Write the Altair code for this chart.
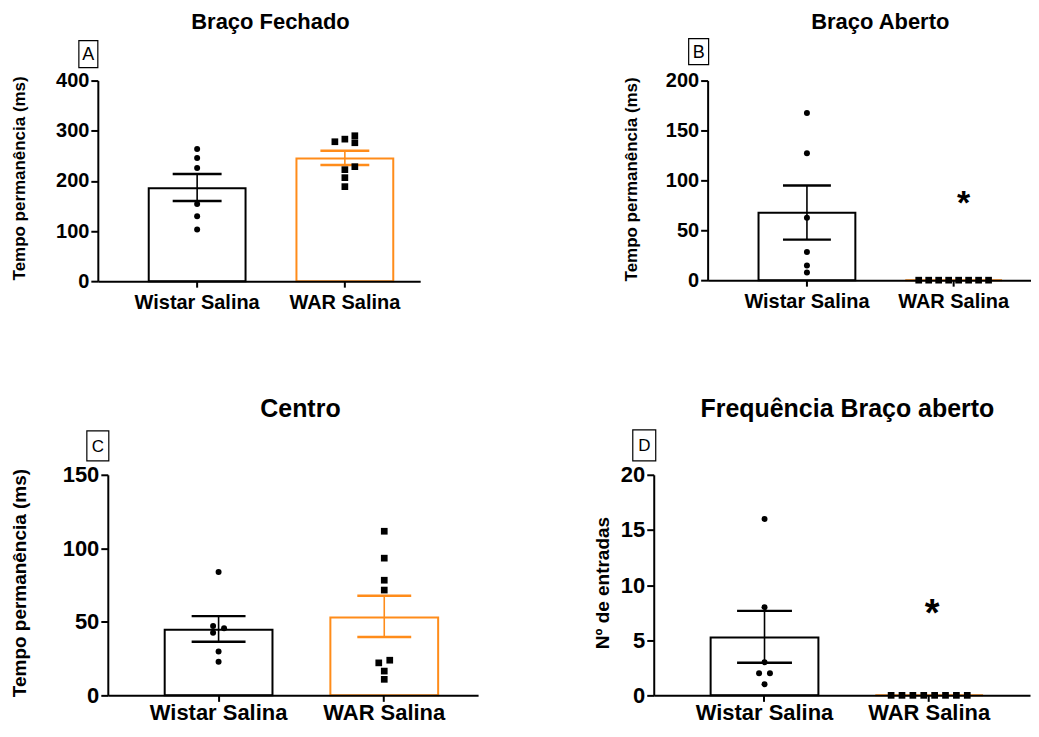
import altair as alt
import pandas as pd

groups = ["Wistar Salina", "WAR Salina"]
colors = ["#000000", "#FF8C1A"]
FONT = "Liberation Sans"

# ---- Panel A : Braço Fechado ----
a_means = [185.1, 244.8]
a_lo = [159.9, 231.5]
a_hi = [213.6, 260.0]
a_w_vals = [263.3, 245.4, 225.5, 153.8, 129.4, 102.8]
a_w_slot = [0, 0, 0, 0, 0, 0]
a_r_vals = [278.0, 283.2, 290.0, 276.0, 222.3, 228.3, 206.4, 188.5]
a_r_slot = [-1, 0, 1, 1, 0, 1, 0, 0]

# ---- Panel B : Braço Aberto ----
b_means = [67.6, 0.0]
b_lo = [40.6, 0.0]
b_hi = [94.8, 0.0]
b_w_vals = [167.4, 127.1, 62.6, 28.3, 14.6, 7.7]
b_w_slot = [0, 0, 0, 0, 0, 0]
b_r_vals = [0, 0, 0, 0, 0, 0, 0, 0]
b_r_slot = [-3.5, -2.5, -1.5, -0.5, 0.5, 1.5, 2.5, 3.5]
b_star = [76]

# ---- Panel C : Centro ----
c_means = [44.6, 53.0]
c_lo = [36.5, 39.7]
c_hi = [53.9, 67.7]
c_w_vals = [83.9, 47.1, 42.6, 45.7, 29.9, 22.8]
c_w_slot = [0, -0.5, -0.5, 0.5, 0, 0]
c_r_vals = [111.6, 93.3, 78.3, 71.6, 22.1, 23.9, 16.5, 10.9]
c_r_slot = [0, 0, 0, 0, -0.5, 0.5, 0, 0]

# ---- Panel D : Frequência Braço aberto ----
d_means = [5.25, 0.0]
d_lo = [2.95, 0.0]
d_hi = [7.66, 0.0]
d_w_vals = [16, 8, 3, 2, 2, 1]
d_w_slot = [0, 0, 0, -0.5, 0.5, 0]
d_r_vals = [0, 0, 0, 0, 0, 0, 0, 0]
d_r_slot = [-3.5, -2.5, -1.5, -0.5, 0.5, 1.5, 2.5, 3.5]
d_star = [7.3]


def panel(letter, title, ytitle, ymax, ystep, means, lo, hi, w_vals, w_slot, r_vals, r_slot,
          width, height, pi, po, align, cap, slot_px, fs_tick, fs_ytitle, fs_title, title_dx,
          title_y, title_pad, ytitle_y, xlab_pad, box, fs_letter, pt_circle, pt_square,
          star=None, star_fs=30, star_dx=0):
    bars = pd.DataFrame({"group": groups, "mean": means, "lo": lo, "hi": hi})
    pts = pd.DataFrame({
        "group": [groups[0]] * len(w_vals) + [groups[1]] * len(r_vals),
        "value": w_vals + r_vals,
        "slot": w_slot + r_slot,
    })
    xscale = alt.Scale(domain=groups, paddingInner=pi, paddingOuter=po, align=align)
    xaxis = alt.Axis(title=None, labelAngle=0, labelFontSize=fs_tick, tickSize=6,
                     labelPadding=xlab_pad, zindex=1)
    xenc = alt.X("group:N", sort=groups, scale=xscale, axis=xaxis)
    bandwidth = width / (2 - pi + 2 * po) * (1 - pi)
    yscale = alt.Scale(domain=[0, ymax], nice=False)
    yaxis = alt.Axis(title=ytitle, values=list(range(0, ymax + 1, ystep)), labelFontSize=fs_tick,
                     titleFontSize=fs_ytitle, titlePadding=title_pad, titleY=ytitle_y,
                     tickSize=7, labelPadding=2)
    cenc = alt.Color("group:N", scale=alt.Scale(domain=groups, range=colors), legend=None)

    base = alt.Chart(bars)
    bar = base.mark_bar(fill="white", strokeWidth=2).encode(
        x=xenc, y=alt.Y("mean:Q", scale=yscale, axis=yaxis),
        stroke=alt.Stroke("group:N", scale=alt.Scale(domain=groups, range=colors), legend=None))
    eb = base.transform_filter("datum.hi > datum.lo")
    rule = eb.mark_rule(strokeWidth=1.6).encode(
        x=xenc, y=alt.Y("lo:Q", scale=yscale, axis=yaxis), y2="hi:Q", color=cenc)
    cap_lo = eb.mark_tick(size=cap, thickness=2.4, opacity=1).encode(
        x=xenc, y=alt.Y("lo:Q", scale=yscale, axis=yaxis), color=cenc)
    cap_hi = eb.mark_tick(size=cap, thickness=2.4, opacity=1).encode(
        x=xenc, y=alt.Y("hi:Q", scale=yscale, axis=yaxis), color=cenc)
    layers = [bar, rule, cap_lo, cap_hi]
    for s in sorted(set(w_slot + r_slot)):
        layers.append(alt.Chart(pts).transform_filter(f"datum.slot == {s}").mark_point(
            filled=True, opacity=1, color="black").encode(
            x=alt.X("group:N", sort=groups, scale=xscale, axis=xaxis,
                    bandPosition=0.5 + s * slot_px / bandwidth),
            y=alt.Y("value:Q", scale=yscale, axis=yaxis),
            shape=alt.Shape("group:N", scale=alt.Scale(domain=groups, range=["circle", "square"]), legend=None),
            size=alt.Size("group:N", scale=alt.Scale(domain=groups, range=[pt_circle, pt_square]), legend=None),
        ))
    if star is not None:
        sdf = pd.DataFrame({"group": [groups[1]], "y": star, "t": ["*"]})
        layers.append(alt.Chart(sdf).mark_text(fontSize=star_fs, fontWeight="bold", font=FONT,
                                               baseline="middle", dx=star_dx, color="black").encode(
            x=xenc, y=alt.Y("y:Q", scale=yscale, axis=yaxis), text="t:N"))
    ldf = pd.DataFrame({"t": [letter], "title": [title]})
    bx0, bx1, by0, by1 = box
    layers.append(alt.Chart(ldf).mark_rect(fill="white", stroke="black", strokeWidth=1.2).encode(
        x=alt.value(bx0), x2=alt.value(bx1), y=alt.value(by0), y2=alt.value(by1)))
    layers.append(alt.Chart(ldf).mark_text(fontSize=fs_letter, font=FONT, align="center",
                                           baseline="middle", color="black").encode(
        x=alt.value((bx0 + bx1) / 2), y=alt.value((by0 + by1) / 2 + 1), text="t:N"))
    # panel title
    layers.append(alt.Chart(ldf).mark_text(fontSize=fs_title, font=FONT, fontWeight="bold",
                                           align="center", baseline="alphabetic", color="black").encode(
        x=alt.value(width / 2 + title_dx), y=alt.value(title_y), text="title:N"))
    return alt.layer(*layers).properties(width=width, height=height)


def anchor():
    # tiny empty cell: lets each row's first panel be placed by its own axis width
    return alt.Chart(pd.DataFrame({"d": [0]})).mark_point(opacity=0, size=1).encode(
        x=alt.value(0), y=alt.value(0)).properties(width=1, height=1)


A = panel("A", "Braço Fechado", "Tempo permanência (ms)", 400, 100, a_means, a_lo, a_hi,
          a_w_vals, a_w_slot, a_r_vals, a_r_slot, 323, 201, 0.3446, 0.2635, 0.654, 49, 10,
          20, 17, 22, 11.5, -52, 27, 97.5, 5, (-19, 0, -40, -13), 18, 36, 45)
B = panel("B", "Braço Aberto", "Tempo permanência (ms)", 200, 50, b_means, b_lo, b_hi,
          b_w_vals, b_w_slot, b_r_vals, b_r_slot, 324, 200, 0.3401, 0.2721, 0.6375, 48, 10,
          20, 17, 22, 11, -52, 25, 98.5, 5, (-19, 1, -42, -16), 18, 36, 45,
          star=b_star, star_fs=34, star_dx=10)
C = panel("C", "Centro", "Tempo permanência (ms)", 150, 50, c_means, c_lo, c_hi,
          c_w_vals, c_w_slot, c_r_vals, c_r_slot, 371, 221, 0.3494, 0.2922, 0.5876, 54, 11,
          22, 19, 25, 7.5, -58, 33, 108, 1, (-21, 1, -44, -14), 17, 45, 52)
D = panel("D", "Frequência Braço aberto", "Nº de entradas", 20, 5, d_means, d_lo, d_hi,
          d_w_vals, d_w_slot, d_r_vals, d_r_slot, 377, 221, 0.3455, 0.3152, 0.548, 55, 10.9,
          22, 19, 25, 5.5, -58, 8, 108, 1, (-21, 2, -45, -14), 17, 45, 52,
          star=d_star, star_fs=38, star_dx=3)

IND = dict(x="independent", y="independent")
row1 = alt.hconcat(anchor(), alt.hconcat(A, B, spacing=202).resolve_scale(**IND),
                   spacing=0).resolve_scale(**IND)
row2 = alt.hconcat(anchor(), alt.hconcat(C, D, spacing=115).resolve_scale(**IND),
                   spacing=0).resolve_scale(**IND)

chart = alt.vconcat(row1, row2, spacing=85).resolve_scale(**IND).properties(
    padding={"left": 0, "top": 2, "right": 0, "bottom": 0}
).configure_axis(
    labelFont=FONT, titleFont=FONT, labelFontWeight="bold", titleFontWeight="bold",
    labelColor="black", titleColor="black", domainColor="black", domainWidth=2,
    tickColor="black", tickWidth=2, grid=False
).configure_view(strokeWidth=0)

chart.save("out.html", embed_options={"renderer": "svg", "actions": False})
